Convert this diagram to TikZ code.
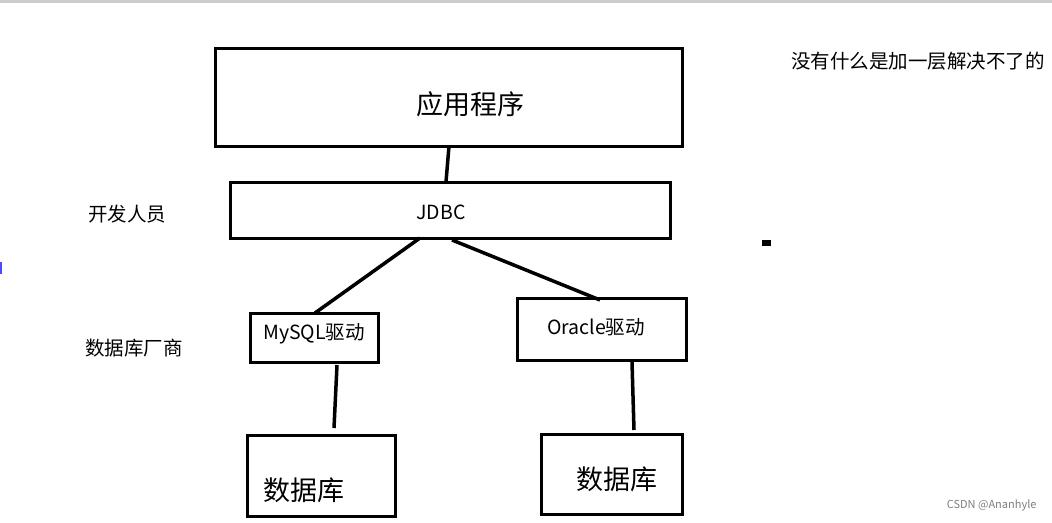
\documentclass[tikz,border=0pt]{standalone}
\usepackage{fontspec}
\setmainfont{Noto Sans CJK SC}
\begin{document}
\begin{tikzpicture}[x=1pt,y=-1pt,
  box/.style={draw=black,line width=3pt,inner sep=0pt},
  conn/.style={line width=3.5pt},
  lbl/.style={font=\fontsize{19.5}{22}\selectfont,anchor=center}]
\useasboundingbox[fill=white] (0,0) rectangle (1052,522);
\fill[gray!40] (0,0) rectangle (1052,3);
\fill[blue!70] (0,262) rectangle (2,274);
\draw[box] (215,48) rectangle (682,146);
\node[font=\fontsize{27}{30}\selectfont] (app) at (470,104) {应用程序};
\draw[box] (230,182) rectangle (670,238);
\node[font=\fontsize{19.5}{22}\selectfont] (jdbc) at (441,212) {JDBC};
\draw[box] (250,313) rectangle (378,362);
\node[font=\fontsize{19.5}{22}\selectfont] (my) at (314,334) {MySQL驱动};
\draw[box] (517,298) rectangle (686,360);
\node[font=\fontsize{19.5}{22}\selectfont] (ora) at (596,327) {Oracle驱动};
\draw[box] (247,435) rectangle (395,516);
\node[font=\fontsize{27}{30}\selectfont] (db1) at (304,490) {数据库};
\draw[box] (541,434) rectangle (682,514);
\node[font=\fontsize{27}{30}\selectfont] (db2) at (617,479) {数据库};
\node[lbl] (dev) at (127,214) {开发人员};
\node[lbl] (ven) at (134,348) {数据库厂商};
\node[lbl,anchor=west,inner sep=0pt] (note) at (791,61) {没有什么是加一层解决不了的};
\node[font=\fontsize{11}{13}\selectfont,text=gray,anchor=east] (wm) at (1040,505) {CSDN @Ananhyle};
\fill (762,240) rectangle (771,246);
\coordinate (a1) at (449,146); \coordinate (a2) at (446,182);
\coordinate (b1) at (420,238); \coordinate (b2) at (315,313);
\coordinate (c1) at (452,240); \coordinate (c2) at (600,300);
\coordinate (d1) at (337,365); \coordinate (d2) at (334,428);
\coordinate (e1) at (632,362); \coordinate (e2) at (634,430);
\draw[conn] (a1)--(a2);
\draw[conn] (b1)--(b2);
\draw[conn] (c1)--(c2);
\draw[conn] (d1)--(d2);
\draw[conn] (e1)--(e2);
\end{tikzpicture}
\end{document}
